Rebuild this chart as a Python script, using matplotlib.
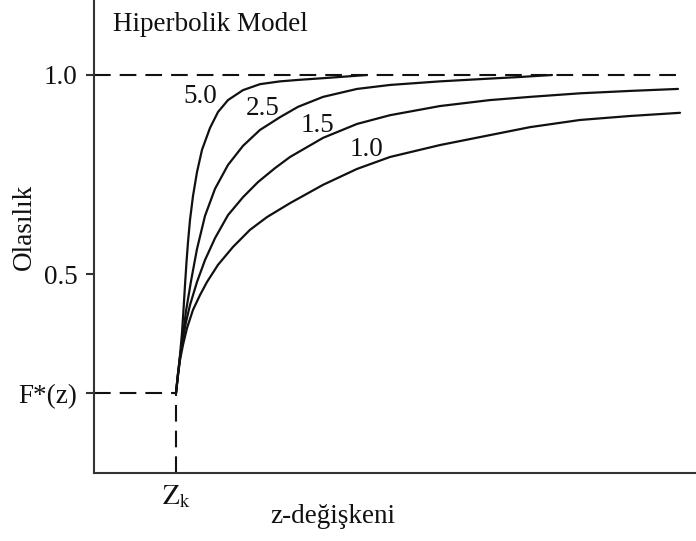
#!/usr/bin/env python3
"""Hiperbolik model: olasilik egrileri, farkli parametre degerleri icin."""
import matplotlib
matplotlib.use("Agg")
import matplotlib.pyplot as plt

# z ekseni keyfi birimde (0..602), olasilik ekseni 0..1
z_k = 82
f_star = 0.20
z_max = 602

curve_labels = ["5.0", "2.5", "1.5", "1.0"]

z_50 = [82, 84, 86, 88, 89.5, 91, 92.5, 94, 96, 99, 103, 108, 116, 124, 134, 149, 166, 186, 206, 229, 251, 273]
p_50 = [0.201, 0.246, 0.296, 0.352, 0.410, 0.472, 0.530, 0.580, 0.636, 0.696, 0.756, 0.812, 0.867, 0.907,
        0.937, 0.962, 0.977, 0.984, 0.988, 0.992, 0.996, 1.000]

z_25 = [82, 84, 86, 89, 92, 97, 103, 111, 121, 134, 149, 166, 186, 204, 229, 263, 296, 346, 396, 426, 458]
p_25 = [0.201, 0.249, 0.289, 0.347, 0.407, 0.482, 0.563, 0.646, 0.714, 0.774, 0.822, 0.862, 0.894, 0.920,
        0.945, 0.965, 0.975, 0.984, 0.991, 0.995, 1.000]

z_15 = [82, 84, 86, 89, 92, 96, 103, 111, 121, 134, 149, 164, 181, 196, 229, 263, 296, 346, 396, 436, 486, 536, 584]
p_15 = [0.201, 0.251, 0.291, 0.339, 0.379, 0.422, 0.480, 0.535, 0.590, 0.648, 0.693, 0.731, 0.766, 0.794,
        0.842, 0.877, 0.899, 0.922, 0.937, 0.945, 0.954, 0.960, 0.965]

z_10 = [82, 84, 86, 89, 93, 99, 106, 113, 124, 139, 156, 173, 196, 229, 263, 296, 346, 396, 436, 486, 536, 586]
p_10 = [0.201, 0.246, 0.284, 0.322, 0.364, 0.410, 0.447, 0.480, 0.523, 0.568, 0.611, 0.643, 0.678, 0.724,
        0.764, 0.794, 0.824, 0.849, 0.869, 0.887, 0.897, 0.905]

curves = [(z_50, p_50), (z_25, p_25), (z_15, p_15), (z_10, p_10)]
label_pos = [(106, 0.947), (169, 0.917), (223, 0.874), (272, 0.814)]

ytick_vals = [f_star, 0.5, 1.0]
ytick_text = ["F*(z)", "0.5", "1.0"]

FONT = "Liberation Serif"
FS = 19.5
INK = "#111111"


def main():
    plt.rcParams["font.family"] = [FONT, "DejaVu Serif"]
    plt.rcParams["mathtext.fontset"] = "stix"
    plt.rcParams["lines.scale_dashes"] = False

    fig = plt.figure(figsize=(6.96, 5.41), dpi=100)
    ax = fig.add_axes([94 / 696, 68 / 541, 602 / 696, 473 / 541])
    ax.set_xlim(0, z_max)
    ax.set_ylim(0, 473 / 398)

    for side in ("top", "right"):
        ax.spines[side].set_visible(False)
    for side in ("left", "bottom"):
        ax.spines[side].set_linewidth(1.5)
        ax.spines[side].set_color("#333333")

    # kesikli referans cizgileri
    dash = (12, 6.5)
    ax.plot([0, 589], [1.0, 1.0], color=INK, lw=1.5, dashes=dash)
    ax.plot([0, z_k], [f_star, f_star], color=INK, lw=1.5, dashes=dash)
    ax.plot([z_k, z_k], [0, f_star], color=INK, lw=1.5, dashes=dash)

    for (zz, pp), lab, (lx, ly) in zip(curves, curve_labels, label_pos):
        ax.plot(zz, pp, color=INK, lw=1.6, solid_capstyle="round", solid_joinstyle="round")
        ax.text(lx, ly, lab, fontsize=FS, ha="center", va="center", color=INK)

    ax.set_yticks(ytick_vals)
    ax.set_yticklabels(ytick_text, fontsize=FS, color=INK)
    ax.tick_params(axis="y", length=6, width=1.5, color="#333333", pad=6)

    ax.set_xticks([z_k])
    ax.set_xticklabels([r"$\mathrm{Z}_{\mathrm{k}}$"], fontsize=FS, color=INK)
    ax.tick_params(axis="x", length=0, pad=8)

    ax.text(19, 1.126, "Hiperbolik Model", fontsize=FS, ha="left", va="center", color=INK)
    ax.text(-0.116, 0.52, "Olasılık", rotation=90, fontsize=FS, ha="center", va="center",
            color=INK, transform=ax.transAxes)
    ax.text(0.397, -0.091, "z-değişkeni", fontsize=FS, ha="center", va="center",
            color=INK, transform=ax.transAxes)

    fig.savefig("out.png", dpi=100, facecolor="white")
    return 0


if __name__ == "__main__":
    raise SystemExit(main())
